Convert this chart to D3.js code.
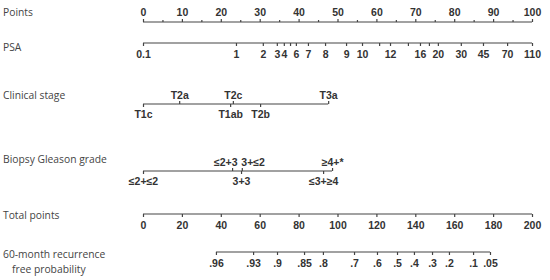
<!DOCTYPE html>
<html>
<head>
<meta charset="utf-8">
<script src="https://cdn.jsdelivr.net/npm/d3@7"></script>
<style>
  body { margin: 0; background: #fff; }
  .title { font-family: "Open Sans", sans-serif; font-size: 10.3px; fill: #444; }
  .ax text { font-family: "Liberation Sans", Arial, sans-serif; font-size: 10.5px; fill: #333; font-weight: bold; }
  .ax path, .ax line { stroke: #444; stroke-width: 1.2; }
</style>
</head>
<body>
<div id="chart"></div>
<script>
// row titles
const rowTitles = ["Points", "PSA", "Clinical stage", "Biopsy Gleason grade", "Total points"];

// PSA values and their position in points
const psaValues = [0.1, 1, 2, 3, 4, 5, 6, 7, 8, 9, 10, 11, 12, 14, 16, 18, 20, 30, 45, 70, 110];
const psaPoints = [0, 23.9, 30.8, 34.4, 36.2, 37.8, 39.3, 42.4, 46.8, 52.2, 56.3, 60.7, 63.5, 68.1, 71.2, 73.5, 75.8, 81.7, 87.4, 93.6, 100];
const psaUnlabeled = [5, 11, 14, 18];

// clinical stage
const stageLabels = ["T1c", "T2a", "T1ab", "T2c", "T2b", "T3a"];
const stagePoints = [0, 9.3, 22.4, 23.1, 30.1, 47.6];
const stageSide = ["below", "above", "below", "above", "below", "above"];

// biopsy Gleason grade
const gleasonLabels = ["≤2+≤2", "≤2+3", "3+3", "3+≤2", "≤3+≥4", "≥4+*"];
const gleasonPoints = [0, 22.9, 25.2, 25.4, 46.3, 48.6];
const gleasonSide = ["below", "above", "below", "above", "below", "above"];

// 60-month recurrence free probability and position in total points
const probValues = [0.96, 0.93, 0.9, 0.85, 0.8, 0.7, 0.6, 0.5, 0.4, 0.3, 0.2, 0.1, 0.05];
const probLabels = [".96", ".93", ".9", ".85", ".8", ".7", ".6", ".5", ".4", ".3", ".2", ".1", ".05"];
const probPoints = [37.5, 56.6, 68.9, 82.8, 92.5, 108.5, 120.3, 130.6, 139.3, 148.6, 157.3, 169.7, 178.4];

const width = 550, height = 280;
const svg = d3.select("#chart").append("svg")
    .attr("width", width)
    .attr("height", height);

const pointsX = d3.scaleLinear().domain([0, 100]).range([143, 532]);
const totalX = d3.scaleLinear().domain([0, 200]).range([143, 532]);

const rowY = [22, 43, 104, 171, 214, 252];

// left titles
const titleY = [16, 51, 99, 163, 219];
rowTitles.forEach((t, i) => {
    svg.append("text").attr("class", "title")
        .attr("x", 3).attr("y", titleY[i]).text(t);
});
svg.append("text").attr("class", "title").attr("x", 3).attr("y", 258).text("60-month recurrence");
svg.append("text").attr("class", "title").attr("x", 12).attr("y", 273).text("free probability");

function baseLine(y, x0, x1) {
    svg.append("line")
        .attr("x1", x0).attr("x2", x1)
        .attr("y1", y).attr("y2", y)
        .attr("stroke", "#444").attr("stroke-width", 1.2);
}

// Points
baseLine(rowY[0], pointsX(0), pointsX(100));
svg.append("g").attr("class", "ax")
    .attr("transform", `translate(0,${rowY[0]})`)
    .call(d3.axisTop(pointsX).tickValues(d3.range(0, 101, 10)).tickSize(3).tickPadding(3))
    .call(g => g.select(".domain").remove());
svg.append("g").attr("class", "ax")
    .attr("transform", `translate(0,${rowY[0]})`)
    .call(d3.axisTop(pointsX).tickValues(d3.range(5, 100, 10)).tickSize(2).tickFormat(""))
    .call(g => g.select(".domain").remove());

// PSA
const psaX = d3.scaleLinear().domain(psaValues).range(psaPoints.map(pointsX));
baseLine(rowY[1], pointsX(0), pointsX(100));
svg.append("g").attr("class", "ax")
    .attr("transform", `translate(0,${rowY[1]})`)
    .call(d3.axisBottom(psaX).tickValues(psaValues).tickSize(3).tickPadding(5)
        .tickFormat(d => psaUnlabeled.includes(d) ? "" : d))
    .call(g => g.select(".domain").remove());

// categorical rows drawn on the points scale
function catRow(y, labels, pts, sides) {
    baseLine(y, pointsX(d3.min(pts)), pointsX(d3.max(pts)));
    const up = pts.filter((p, i) => sides[i] === "above");
    const upL = labels.filter((p, i) => sides[i] === "above");
    const dn = pts.filter((p, i) => sides[i] === "below");
    const dnL = labels.filter((p, i) => sides[i] === "below");
    const top = svg.append("g").attr("class", "ax")
        .attr("transform", `translate(0,${y})`)
        .call(d3.axisTop(pointsX).tickValues(up).tickSize(3).tickPadding(2)
            .tickFormat((d, i) => upL[i]))
        .call(g => g.select(".domain").remove());
    svg.append("g").attr("class", "ax")
        .attr("transform", `translate(0,${y})`)
        .call(d3.axisBottom(pointsX).tickValues(dn).tickSize(3).tickPadding(4)
            .tickFormat((d, i) => dnL[i]))
        .call(g => g.select(".domain").remove());
    return top;
}
catRow(rowY[2], stageLabels, stagePoints, stageSide);
const gTop = catRow(rowY[3], gleasonLabels, gleasonPoints, gleasonSide);
// spread the two crowded labels above the Gleason line
gTop.selectAll("text")
    .filter(function () { return this.textContent === "≤2+3"; })
    .attr("text-anchor", "end").attr("dx", 5);
gTop.selectAll("text")
    .filter(function () { return this.textContent === "3+≤2"; })
    .attr("text-anchor", "start").attr("dx", -1);

// Total points
baseLine(rowY[4], totalX(0), totalX(200));
svg.append("g").attr("class", "ax")
    .attr("transform", `translate(0,${rowY[4]})`)
    .call(d3.axisBottom(totalX).tickValues(d3.range(0, 201, 20)).tickSize(3).tickPadding(5))
    .call(g => g.select(".domain").remove());

// probability
const probX = d3.scaleLinear().domain(probValues).range(probPoints.map(totalX));
baseLine(rowY[5], probX(0.96), probX(0.05));
svg.append("g").attr("class", "ax")
    .attr("transform", `translate(0,${rowY[5]})`)
    .call(d3.axisBottom(probX).tickValues(probValues).tickSize(3).tickPadding(5)
        .tickFormat((d, i) => probLabels[i]))
    .call(g => g.select(".domain").remove());
</script>
</body>
</html>
